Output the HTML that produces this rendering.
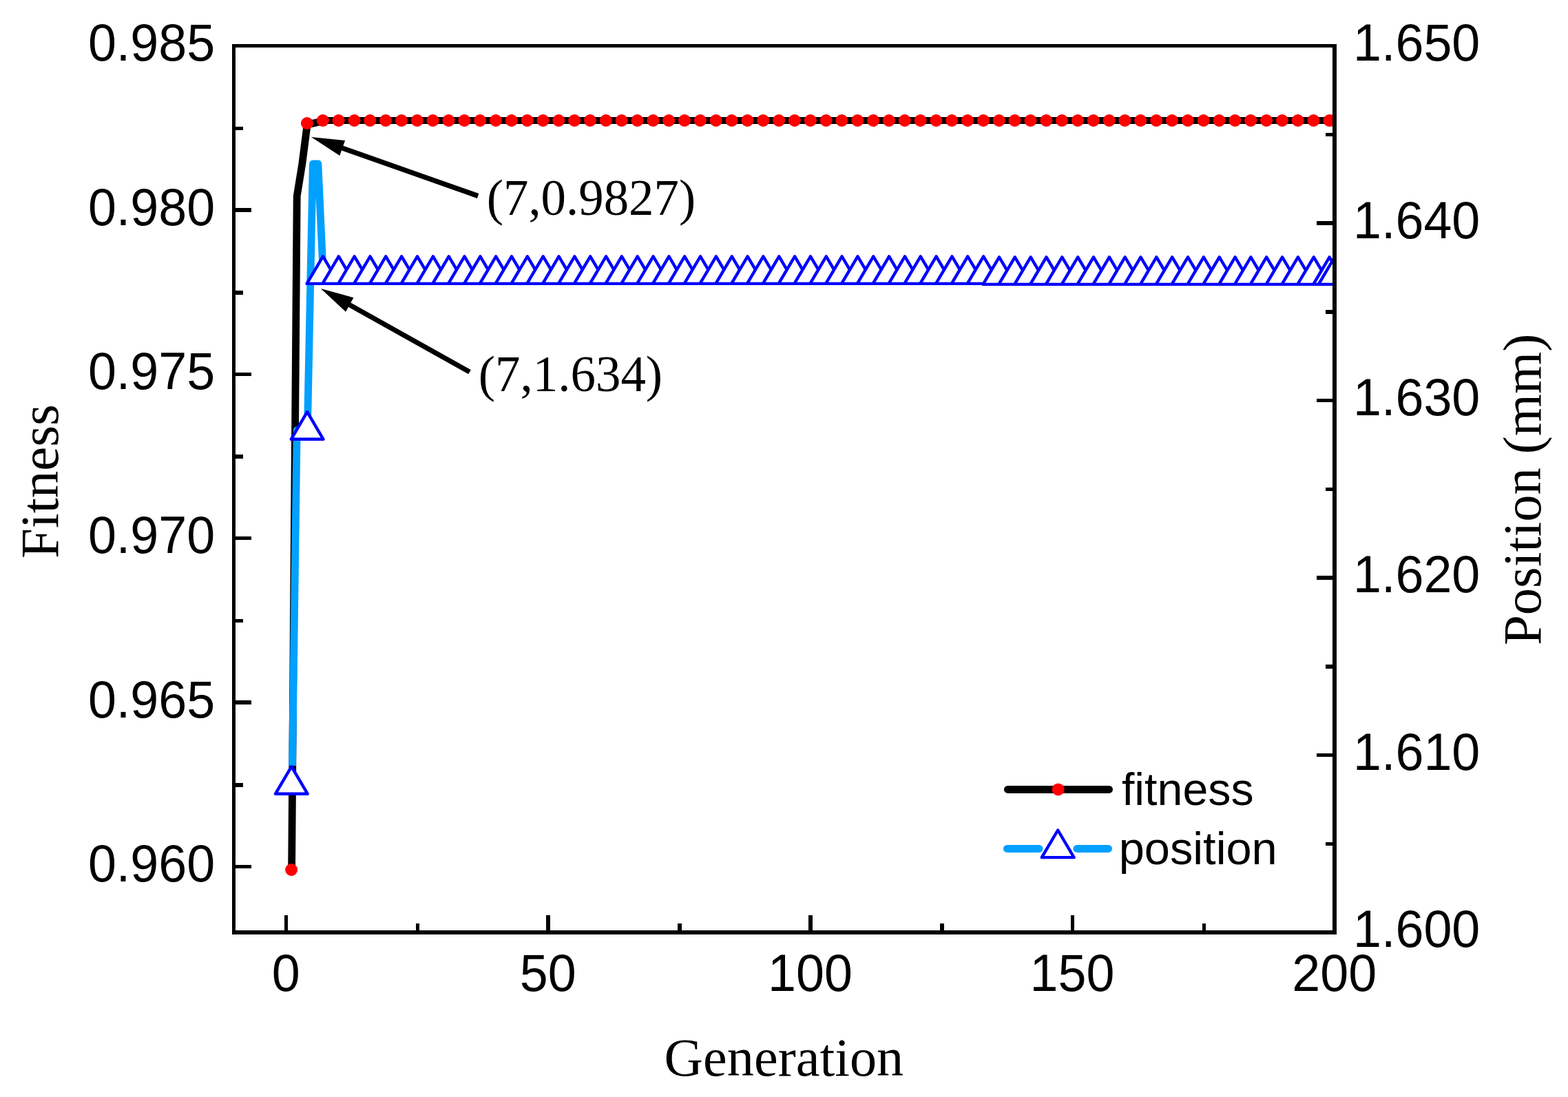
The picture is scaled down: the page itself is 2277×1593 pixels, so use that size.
<!DOCTYPE html>
<html lang="en"><head><meta charset="utf-8"><title>Fitness and position vs generation</title>
<style>
html,body{margin:0;padding:0;background:#fff;}
body{width:2277px;height:1593px;overflow:hidden;}
svg{display:block;}
.sans{font-family:"Liberation Sans",sans-serif;}
.serif{font-family:"Liberation Serif",serif;}
text{fill:#000;}
</style></head><body>
<svg width="2277" height="1593" viewBox="0 0 2277 1593">
<rect x="0" y="0" width="2277" height="1593" fill="#fff"/>
<defs><clipPath id="plot"><rect x="342" y="69" width="1593" height="1282"/></clipPath></defs>
<g clip-path="url(#plot)">
<polyline points="423.6,1263.0 431.2,285.0 438.8,238.0 446.4,179.0 454.1,179.3 461.7,177.5 469.3,175.0" fill="none" stroke="#000" stroke-width="10.8" stroke-linejoin="round" stroke-linecap="round"/>
<line x1="469.3" y1="175" x2="1945.6" y2="175" stroke="#000" stroke-width="10"/>
<polyline points="424.5,1112.0 431.2,624.6 446.4,624.6 454.3,238.0 461.9,238.0 469.3,398.7" fill="none" stroke="#00A0FF" stroke-width="10.8" stroke-linejoin="round" stroke-linecap="butt"/>
<g fill="#FF0000">
<circle cx="423.1" cy="1263.0" r="9"/>
<circle cx="445.9" cy="179.0" r="9"/>
<circle cx="468.8" cy="175.0" r="9"/>
<circle cx="491.6" cy="175.0" r="9"/>
<circle cx="514.5" cy="175.0" r="9"/>
<circle cx="537.3" cy="175.0" r="9"/>
<circle cx="560.1" cy="175.0" r="9"/>
<circle cx="583.0" cy="175.0" r="9"/>
<circle cx="605.8" cy="175.0" r="9"/>
<circle cx="628.6" cy="175.0" r="9"/>
<circle cx="651.5" cy="175.0" r="9"/>
<circle cx="674.3" cy="175.0" r="9"/>
<circle cx="697.2" cy="175.0" r="9"/>
<circle cx="720.0" cy="175.0" r="9"/>
<circle cx="742.8" cy="175.0" r="9"/>
<circle cx="765.7" cy="175.0" r="9"/>
<circle cx="788.5" cy="175.0" r="9"/>
<circle cx="811.3" cy="175.0" r="9"/>
<circle cx="834.2" cy="175.0" r="9"/>
<circle cx="857.0" cy="175.0" r="9"/>
<circle cx="879.9" cy="175.0" r="9"/>
<circle cx="902.7" cy="175.0" r="9"/>
<circle cx="925.5" cy="175.0" r="9"/>
<circle cx="948.4" cy="175.0" r="9"/>
<circle cx="971.2" cy="175.0" r="9"/>
<circle cx="994.0" cy="175.0" r="9"/>
<circle cx="1016.9" cy="175.0" r="9"/>
<circle cx="1039.7" cy="175.0" r="9"/>
<circle cx="1062.6" cy="175.0" r="9"/>
<circle cx="1085.4" cy="175.0" r="9"/>
<circle cx="1108.2" cy="175.0" r="9"/>
<circle cx="1131.1" cy="175.0" r="9"/>
<circle cx="1153.9" cy="175.0" r="9"/>
<circle cx="1176.8" cy="175.0" r="9"/>
<circle cx="1199.6" cy="175.0" r="9"/>
<circle cx="1222.4" cy="175.0" r="9"/>
<circle cx="1245.3" cy="175.0" r="9"/>
<circle cx="1268.1" cy="175.0" r="9"/>
<circle cx="1290.9" cy="175.0" r="9"/>
<circle cx="1313.8" cy="175.0" r="9"/>
<circle cx="1336.6" cy="175.0" r="9"/>
<circle cx="1359.4" cy="175.0" r="9"/>
<circle cx="1382.3" cy="175.0" r="9"/>
<circle cx="1405.1" cy="175.0" r="9"/>
<circle cx="1428.0" cy="175.0" r="9"/>
<circle cx="1450.8" cy="175.0" r="9"/>
<circle cx="1473.6" cy="175.0" r="9"/>
<circle cx="1496.5" cy="175.0" r="9"/>
<circle cx="1519.3" cy="175.0" r="9"/>
<circle cx="1542.1" cy="175.0" r="9"/>
<circle cx="1565.0" cy="175.0" r="9"/>
<circle cx="1587.8" cy="175.0" r="9"/>
<circle cx="1610.7" cy="175.0" r="9"/>
<circle cx="1633.5" cy="175.0" r="9"/>
<circle cx="1656.3" cy="175.0" r="9"/>
<circle cx="1679.2" cy="175.0" r="9"/>
<circle cx="1702.0" cy="175.0" r="9"/>
<circle cx="1724.8" cy="175.0" r="9"/>
<circle cx="1747.7" cy="175.0" r="9"/>
<circle cx="1770.5" cy="175.0" r="9"/>
<circle cx="1793.4" cy="175.0" r="9"/>
<circle cx="1816.2" cy="175.0" r="9"/>
<circle cx="1839.0" cy="175.0" r="9"/>
<circle cx="1861.9" cy="175.0" r="9"/>
<circle cx="1884.7" cy="175.0" r="9"/>
<circle cx="1907.5" cy="175.0" r="9"/>
<circle cx="1930.4" cy="175.0" r="9"/>
<circle cx="1938.0" cy="175.0" r="9"/>
</g>
<g fill="#fff" stroke="#0000FF" stroke-width="4.4" stroke-linejoin="round">
<path d="M423.3,1113.2 L446.7,1152.8 L399.9,1152.8 Z"/>
<path d="M446.1,598.2 L469.5,637.8 L422.8,637.8 Z"/>
<path d="M469.0,372.3 L492.4,411.9 L445.6,411.9 Z"/>
<path d="M491.8,372.3 L515.2,411.9 L468.4,411.9 Z"/>
<path d="M514.7,372.3 L538.1,411.9 L491.3,411.9 Z"/>
<path d="M537.5,372.3 L560.9,411.9 L514.1,411.9 Z"/>
<path d="M560.3,372.3 L583.7,411.9 L536.9,411.9 Z"/>
<path d="M583.2,372.3 L606.6,411.9 L559.8,411.9 Z"/>
<path d="M606.0,372.3 L629.4,411.9 L582.6,411.9 Z"/>
<path d="M628.9,372.3 L652.2,411.9 L605.5,411.9 Z"/>
<path d="M651.7,372.3 L675.1,411.9 L628.3,411.9 Z"/>
<path d="M674.5,372.3 L697.9,411.9 L651.1,411.9 Z"/>
<path d="M697.4,372.3 L720.8,411.9 L674.0,411.9 Z"/>
<path d="M720.2,372.3 L743.6,411.9 L696.8,411.9 Z"/>
<path d="M743.0,372.3 L766.4,411.9 L719.6,411.9 Z"/>
<path d="M765.9,372.3 L789.3,411.9 L742.5,411.9 Z"/>
<path d="M788.7,372.3 L812.1,411.9 L765.3,411.9 Z"/>
<path d="M811.5,372.3 L834.9,411.9 L788.1,411.9 Z"/>
<path d="M834.4,372.3 L857.8,411.9 L811.0,411.9 Z"/>
<path d="M857.2,372.3 L880.6,411.9 L833.8,411.9 Z"/>
<path d="M880.1,372.3 L903.5,411.9 L856.7,411.9 Z"/>
<path d="M902.9,372.3 L926.3,411.9 L879.5,411.9 Z"/>
<path d="M925.7,372.3 L949.1,411.9 L902.3,411.9 Z"/>
<path d="M948.6,372.3 L972.0,411.9 L925.2,411.9 Z"/>
<path d="M971.4,372.3 L994.8,411.9 L948.0,411.9 Z"/>
<path d="M994.2,372.3 L1017.6,411.9 L970.9,411.9 Z"/>
<path d="M1017.1,372.3 L1040.5,411.9 L993.7,411.9 Z"/>
<path d="M1039.9,372.3 L1063.3,411.9 L1016.5,411.9 Z"/>
<path d="M1062.8,372.3 L1086.2,411.9 L1039.4,411.9 Z"/>
<path d="M1085.6,372.3 L1109.0,411.9 L1062.2,411.9 Z"/>
<path d="M1108.4,372.3 L1131.8,411.9 L1085.0,411.9 Z"/>
<path d="M1131.3,372.3 L1154.7,411.9 L1107.9,411.9 Z"/>
<path d="M1154.1,372.3 L1177.5,411.9 L1130.7,411.9 Z"/>
<path d="M1177.0,372.3 L1200.4,411.9 L1153.5,411.9 Z"/>
<path d="M1199.8,372.3 L1223.2,411.9 L1176.4,411.9 Z"/>
<path d="M1222.6,372.3 L1246.0,411.9 L1199.2,411.9 Z"/>
<path d="M1245.5,372.3 L1268.9,411.9 L1222.1,411.9 Z"/>
<path d="M1268.3,372.3 L1291.7,411.9 L1244.9,411.9 Z"/>
<path d="M1291.1,372.3 L1314.5,411.9 L1267.7,411.9 Z"/>
<path d="M1314.0,372.3 L1337.4,411.9 L1290.6,411.9 Z"/>
<path d="M1336.8,372.3 L1360.2,411.9 L1313.4,411.9 Z"/>
<path d="M1359.6,372.3 L1383.0,411.9 L1336.2,411.9 Z"/>
<path d="M1382.5,372.3 L1405.9,411.9 L1359.1,411.9 Z"/>
<path d="M1405.3,372.3 L1428.7,411.9 L1381.9,411.9 Z"/>
<path d="M1428.2,372.3 L1451.6,411.9 L1404.8,411.9 Z"/>
<path d="M1451.0,373.3 L1474.4,412.9 L1427.6,412.9 Z"/>
<path d="M1473.8,373.3 L1497.2,412.9 L1450.4,412.9 Z"/>
<path d="M1496.7,373.3 L1520.1,412.9 L1473.3,412.9 Z"/>
<path d="M1519.5,373.3 L1542.9,412.9 L1496.1,412.9 Z"/>
<path d="M1542.3,373.3 L1565.8,412.9 L1518.9,412.9 Z"/>
<path d="M1565.2,373.3 L1588.6,412.9 L1541.8,412.9 Z"/>
<path d="M1588.0,373.3 L1611.4,412.9 L1564.6,412.9 Z"/>
<path d="M1610.9,373.3 L1634.3,412.9 L1587.5,412.9 Z"/>
<path d="M1633.7,373.3 L1657.1,412.9 L1610.3,412.9 Z"/>
<path d="M1656.5,373.3 L1679.9,412.9 L1633.1,412.9 Z"/>
<path d="M1679.4,373.3 L1702.8,412.9 L1656.0,412.9 Z"/>
<path d="M1702.2,373.3 L1725.6,412.9 L1678.8,412.9 Z"/>
<path d="M1725.0,373.3 L1748.5,412.9 L1701.6,412.9 Z"/>
<path d="M1747.9,373.3 L1771.3,412.9 L1724.5,412.9 Z"/>
<path d="M1770.7,373.3 L1794.1,412.9 L1747.3,412.9 Z"/>
<path d="M1793.6,373.3 L1817.0,412.9 L1770.2,412.9 Z"/>
<path d="M1816.4,373.3 L1839.8,412.9 L1793.0,412.9 Z"/>
<path d="M1839.2,373.3 L1862.6,412.9 L1815.8,412.9 Z"/>
<path d="M1862.1,373.3 L1885.5,412.9 L1838.7,412.9 Z"/>
<path d="M1884.9,373.3 L1908.3,412.9 L1861.5,412.9 Z"/>
<path d="M1907.8,373.3 L1931.2,412.9 L1884.3,412.9 Z"/>
<path d="M1930.6,373.3 L1954.0,412.9 L1907.2,412.9 Z"/>
<path d="M1938.2,373.3 L1961.6,412.9 L1914.8,412.9 Z"/>
</g>
</g>
<g fill="#000" shape-rendering="crispEdges">
<rect x="337" y="64" width="5" height="1293"/>
<rect x="1935" y="64" width="6" height="1293"/>
<rect x="337" y="64" width="1604" height="5"/>
<rect x="337" y="1351" width="1604" height="6"/>
<rect x="342" y="1256" width="23" height="5"/>
<rect x="342" y="1137" width="11" height="6"/>
<rect x="342" y="1017" width="23" height="6"/>
<rect x="342" y="899" width="11" height="5"/>
<rect x="342" y="779" width="23" height="5"/>
<rect x="342" y="660" width="11" height="6"/>
<rect x="342" y="541" width="23" height="5"/>
<rect x="342" y="422" width="11" height="6"/>
<rect x="342" y="302" width="23" height="6"/>
<rect x="342" y="184" width="11" height="5"/>
<rect x="1925" y="1223" width="10" height="5"/>
<rect x="1912" y="1094" width="23" height="5"/>
<rect x="1925" y="965" width="10" height="6"/>
<rect x="1912" y="836" width="23" height="6"/>
<rect x="1925" y="708" width="10" height="5"/>
<rect x="1912" y="579" width="23" height="5"/>
<rect x="1925" y="450" width="10" height="6"/>
<rect x="1912" y="321" width="23" height="6"/>
<rect x="1925" y="193" width="10" height="5"/>
<rect x="413" y="1329" width="5" height="22"/>
<rect x="604" y="1341" width="5" height="10"/>
<rect x="793" y="1329" width="6" height="22"/>
<rect x="984" y="1341" width="6" height="10"/>
<rect x="1174" y="1329" width="6" height="22"/>
<rect x="1365" y="1341" width="6" height="10"/>
<rect x="1555" y="1329" width="5" height="22"/>
<rect x="1746" y="1341" width="5" height="10"/>
</g>
<text class="sans" font-size="76.52" transform="translate(127.88,1280.20) scale(0.9629,1)">0.960</text>
<text class="sans" font-size="76.52" transform="translate(127.88,1041.80) scale(0.9629,1)">0.965</text>
<text class="sans" font-size="76.52" transform="translate(127.88,803.40) scale(0.9629,1)">0.970</text>
<text class="sans" font-size="76.52" transform="translate(127.88,565.00) scale(0.9629,1)">0.975</text>
<text class="sans" font-size="76.52" transform="translate(127.88,326.60) scale(0.9629,1)">0.980</text>
<text class="sans" font-size="76.52" transform="translate(127.88,88.20) scale(0.9629,1)">0.985</text>
<text class="sans" font-size="76.52" transform="translate(1964.96,1375.10) scale(0.9629,1)">1.600</text>
<text class="sans" font-size="76.52" transform="translate(1964.96,1117.72) scale(0.9629,1)">1.610</text>
<text class="sans" font-size="76.52" transform="translate(1964.96,860.34) scale(0.9629,1)">1.620</text>
<text class="sans" font-size="76.52" transform="translate(1964.96,602.96) scale(0.9629,1)">1.630</text>
<text class="sans" font-size="76.52" transform="translate(1964.96,345.58) scale(0.9629,1)">1.640</text>
<text class="sans" font-size="76.52" transform="translate(1964.96,88.20) scale(0.9629,1)">1.650</text>
<text class="serif" font-size="77.70" transform="translate(964.60,1562.00) scale(1.0071,1)">Generation</text>
<text class="serif" font-size="77.70" transform="translate(83.90,811.10) rotate(-90) scale(1.0171,1)">Fitness</text>
<text class="serif" font-size="77.70" transform="translate(2237.00,937.06) rotate(-90) scale(1.0129,1)">Position (mm)</text>
<text class="serif" font-size="74.70" transform="translate(706.70,311.70) scale(0.9754,1)">(7,0.9827)</text>
<text class="serif" font-size="74.70" transform="translate(694.72,567.70) scale(0.9766,1)">(7,1.634)</text>
<text class="sans" font-size="67.30" transform="translate(1628.94,1168.90) scale(0.9854,1)">fitness</text>
<text class="sans" font-size="67.30" transform="translate(1624.68,1254.70) scale(0.9917,1)">position</text>
<text class="sans" font-size="76.52" text-anchor="middle" transform="translate(415.20,1439.15) scale(0.9629,1)">0</text>
<text class="sans" font-size="76.52" text-anchor="middle" transform="translate(795.83,1439.15) scale(0.9629,1)">50</text>
<text class="sans" font-size="76.52" text-anchor="middle" transform="translate(1176.45,1439.15) scale(0.9629,1)">100</text>
<text class="sans" font-size="76.52" text-anchor="middle" transform="translate(1557.08,1439.15) scale(0.9629,1)">150</text>
<text class="sans" font-size="76.52" text-anchor="middle" transform="translate(1937.70,1439.15) scale(0.9629,1)">200</text>
<line x1="694.1" y1="284.5" x2="495.3" y2="214.4" stroke="#000" stroke-width="7.2"/><path d="M451.9,199.1 L501.1,204.0 L493.3,226.1 Z" fill="#000"/>
<line x1="682.0" y1="540.2" x2="505.9" y2="441.6" stroke="#000" stroke-width="7.2"/><path d="M465.8,419.1 L513.4,432.3 L502.0,452.8 Z" fill="#000"/>
<line x1="1463.5" y1="1146.4" x2="1610.5" y2="1146.4" stroke="#000" stroke-width="11" stroke-linecap="round"/>
<circle cx="1536.6" cy="1146.4" r="9" fill="#FF0000"/>
<line x1="1462.5" y1="1232.4" x2="1509" y2="1232.4" stroke="#00A0FF" stroke-width="11" stroke-linecap="round"/>
<line x1="1564" y1="1232.4" x2="1609.5" y2="1232.4" stroke="#00A0FF" stroke-width="11" stroke-linecap="round"/>
<g fill="#fff" stroke="#0000FF" stroke-width="4.4" stroke-linejoin="round"><path d="M1536.2,1205.5 L1559.6,1245.1 L1512.8,1245.1 Z"/></g>
</svg></body></html>
